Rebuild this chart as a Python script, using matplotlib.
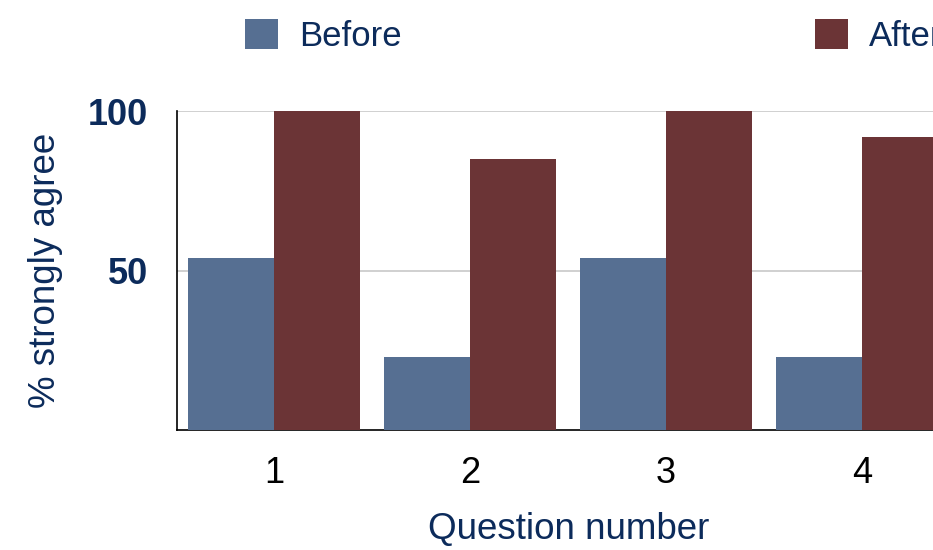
import numpy as np
import matplotlib.pyplot as plt

plt.rcParams['font.family'] = ['Liberation Sans', 'DejaVu Sans']

# data
questions = ['1', '2', '3', '4']
before = [54, 23, 54, 23]
after = [100, 85, 100, 92]

navy = '#0c2b5b'
blue = '#566f92'
red = '#6b3436'

fig = plt.figure(figsize=(9.33, 5.5), dpi=100)
# axes runs past the right edge, like the cropped original
ax = fig.add_axes([177/933, 1 - 430/550, (960 - 177)/933, (430 - 111)/550])

x = np.arange(len(questions))
w = 0.44
b1 = ax.bar(x - w/2, before, w, color=blue, label='Before', zorder=3)
b2 = ax.bar(x + w/2, after, w, color=red, label='After', zorder=3)

ax.set_xlim(-0.495, 3.5)
ax.set_ylim(0, 100)
ax.set_yticks([50, 100])
ax.set_xticks(x)
ax.set_xticklabels(questions)
ax.yaxis.grid(True, color='#c8c8c8', linewidth=1.2, zorder=0)

for s in ['top', 'right']:
    ax.spines[s].set_visible(False)
ax.spines['left'].set_linewidth(1.2)
ax.spines['bottom'].set_linewidth(1.2)

ax.tick_params(axis='y', length=0, pad=21, labelsize=26, labelcolor=navy)
ax.tick_params(axis='x', length=0, pad=19, labelsize=26, labelcolor='black')
for t in ax.get_yticklabels():
    t.set_fontweight('bold')

ax.set_ylabel('% strongly agree', fontsize=26.5, color=navy, labelpad=18)
ax.set_xlabel('Question number', fontsize=26.5, color=navy, labelpad=15)

fig.legend(handles=[b1, b2], loc='upper left', bbox_to_anchor=(245/933, 1 - 19/550),
           ncol=2, frameon=False, fontsize=25, labelcolor=navy,
           handlelength=0.95, handleheight=0.95, handletextpad=0.6,
           columnspacing=11.9, borderpad=0, borderaxespad=0)

fig.savefig('out.png', dpi=100)
